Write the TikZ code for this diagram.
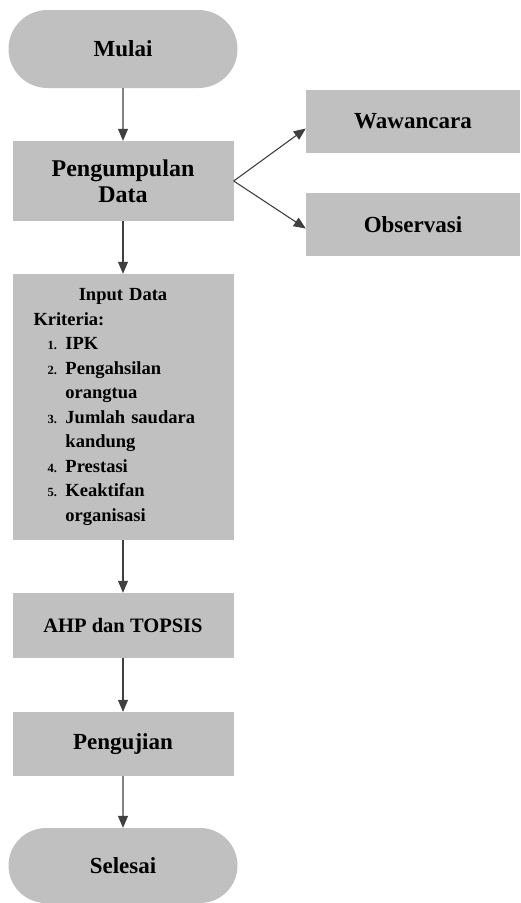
\documentclass[tikz,border=0pt]{standalone}
\usepackage{fontspec}
\setmainfont{Liberation Serif}
\usepackage{tikz}
\usetikzlibrary{arrows.meta,shapes.misc}
\definecolor{boxgray}{HTML}{C0C0C0}
\definecolor{linegray}{HTML}{404040}

\begin{document}
\begin{tikzpicture}[x=1pt, y=-1pt,
    box/.style={fill=boxgray, minimum width=221pt, align=center, inner sep=0pt,
                font=\fontsize{23}{25}\selectfont\bfseries},
    pill/.style={box, rounded rectangle, minimum width=229pt},
    arrow/.style={-{Triangle[length=12pt,width=10pt]}, line width=1.1pt, draw=linegray},
    num/.style={font=\fontsize{12}{12}\selectfont\bfseries}
  ]
    \useasboundingbox (0,0) rectangle (520,903);

    \node[pill, minimum height=78pt] (mulai) at (123,49) {Mulai};
    \node[box, minimum height=80pt, font=\fontsize{24}{26}\selectfont\bfseries] (pd) at (123,181) {Pengumpulan\\Data};
    \node[box, minimum width=214pt, minimum height=63pt] (waw) at (413,121.5) {Wawancara};
    \node[box, minimum width=214pt, minimum height=63pt] (obs) at (413,224.5) {Observasi};

    \node[box, minimum height=266pt, text width=179pt, align=left,
          font=\fontsize{18.5}{24.5}\selectfont\bfseries] (inp) at (123,407) {%
      {\centering Input Data\par}
      Kriteria:\par
      \hspace*{14pt}\makebox[18pt][l]{\fontsize{12.5}{12}\selectfont 1.}IPK\par
      \hspace*{14pt}\makebox[18pt][l]{\fontsize{12.5}{12}\selectfont 2.}Pengahsilan\par
      \hspace*{32pt}orangtua\par
      \hspace*{14pt}\makebox[18pt][l]{\fontsize{12.5}{12}\selectfont 3.}Jumlah saudara\par
      \hspace*{32pt}kandung\par
      \hspace*{14pt}\makebox[18pt][l]{\fontsize{12.5}{12}\selectfont 4.}Prestasi\par
      \hspace*{14pt}\makebox[18pt][l]{\fontsize{12.5}{12}\selectfont 5.}Keaktifan\par
      \hspace*{32pt}organisasi};

    \node[box, minimum height=65pt, font=\fontsize{20.5}{24}\selectfont\bfseries] (ahp) at (123,625.5) {AHP dan TOPSIS};
    \node[box, minimum height=64pt] (uji) at (123,744) {Pengujian};
    \node[pill, minimum height=75pt] (selesai) at (123,865.5) {Selesai};

    \draw[arrow] (mulai) -- (pd);
    \draw[arrow] (pd.east) -- ([yshift=-7pt]waw.west);
    \draw[arrow] (pd.east) -- ([yshift=-4pt]obs.west);
    \draw[arrow] (pd) -- (inp);
    \draw[arrow] (inp) -- (ahp);
    \draw[arrow] (ahp) -- (uji);
    \draw[arrow] (uji) -- (selesai);
  \end{tikzpicture}
\end{document}
